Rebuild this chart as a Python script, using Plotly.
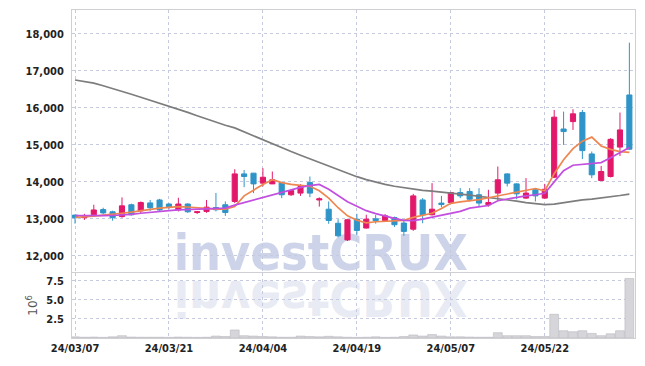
import plotly.graph_objects as go

# ---------------- data ----------------
dates = [
    "24/03/07", "24/03/08", "24/03/11", "24/03/12", "24/03/13", "24/03/14", "24/03/15",
    "24/03/18", "24/03/19", "24/03/20", "24/03/21", "24/03/22", "24/03/25", "24/03/26",
    "24/03/27", "24/03/28", "24/03/29", "24/04/01", "24/04/02", "24/04/03", "24/04/04",
    "24/04/05", "24/04/08", "24/04/09", "24/04/11", "24/04/12", "24/04/15", "24/04/16",
    "24/04/17", "24/04/18", "24/04/19", "24/04/22", "24/04/23", "24/04/24", "24/04/25",
    "24/04/26", "24/04/29", "24/04/30", "24/05/02", "24/05/03", "24/05/07", "24/05/08",
    "24/05/09", "24/05/10", "24/05/13", "24/05/14", "24/05/16", "24/05/17", "24/05/20",
    "24/05/21", "24/05/22", "24/05/23", "24/05/24", "24/05/27", "24/05/28", "24/05/29",
    "24/05/30", "24/05/31", "24/06/03", "24/06/04",
]

opens = [13100, 13030, 13110, 13250, 13190, 13060, 13380, 13215, 13430, 13510,
         13400, 13240, 13400, 13170, 13200, 13305, 13380, 13470, 14215, 14235,
         13965, 13945, 13980, 13650, 13695, 13980, 13510, 13260, 12880, 12430,
         12990, 12750, 13000, 12955, 13035, 12885, 12720, 13510, 13110, 13425,
         13440, 13710, 13740, 13650, 13380, 13695, 14215, 13945, 13560, 13785,
         13560, 14125, 15430, 15630, 15875, 14755, 14035, 14145, 14940, 16350]
highs = [13110, 13135, 13380, 13300, 13220, 13580, 13410, 13470, 13510, 13540,
         13420, 13570, 13420, 13210, 13510, 13700, 13470, 14340, 14320, 14240,
         14370, 14280, 14000, 13800, 13935, 14145, 13580, 13470, 12990, 13000,
         13135, 13110, 13100, 13130, 13060, 12975, 13675, 13560, 13965, 13620,
         13730, 13830, 13830, 13830, 13785, 14415, 14230, 13960, 14100, 13820,
         13945, 15945, 15900, 15965, 15945, 14820, 14430, 15180, 15875, 17765]
lows = [12870, 12970, 13090, 13130, 12950, 13030, 13090, 13160, 13215, 13215,
        13260, 13200, 13160, 13130, 13160, 13200, 13080, 13425, 13855, 13695,
        13875, 13940, 13560, 13620, 13620, 13585, 13330, 12865, 12500, 12400,
        12570, 12740, 12870, 12920, 12780, 12540, 12675, 12880, 13090, 13315,
        13400, 13560, 13470, 13330, 13330, 13510, 13875, 13530, 13540, 13470,
        13540, 14100, 15000, 15405, 14615, 14100, 14030, 14120, 14700, 14860]
closes = [13030, 13070, 13240, 13160, 13030, 13350, 13110, 13440, 13300, 13240,
          13320, 13400, 13190, 13190, 13315, 13245, 13170, 14215, 14145, 13945,
          14125, 14055, 13650, 13765, 13875, 13695, 13540, 12955, 12540, 12975,
          12685, 12990, 12950, 13080, 12840, 12660, 13620, 13110, 13260, 13385,
          13710, 13620, 13530, 13425, 13440, 14055, 13965, 13675, 13695, 13620,
          13800, 15750, 15360, 15840, 14845, 14190, 14280, 15150, 15405, 14885]

ma_short = [13040, 13050, 13070, 13100, 13120, 13150, 13180, 13220, 13260, 13290,
            13310, 13330, 13320, 13300, 13270, 13260, 13260, 13330, 13620, 13780,
            13930, 14060, 13980, 13930, 13910, 13880, 13760, 13560, 13300, 13080,
            12960, 12890, 12920, 12940, 12950, 12960, 13040, 13100, 13150, 13280,
            13420, 13460, 13480, 13520, 13570, 13620, 13670, 13720, 13780, 13820,
            13760, 14220, 14600, 14900, 15100, 15210, 14970, 14880, 14820, 14800]
ma_mid = [13090, 13085, 13080, 13085, 13090, 13100, 13120, 13150, 13180, 13200,
          13220, 13240, 13250, 13260, 13265, 13270, 13290, 13370, 13440, 13500,
          13570, 13640, 13720, 13790, 13850, 13900, 13930, 13800, 13620, 13460,
          13340, 13220, 13140, 13070, 13010, 12960, 12950, 12990, 13040, 13085,
          13140, 13200, 13290, 13320, 13360, 13490, 13540, 13590, 13620, 13650,
          13690, 14000, 14300, 14450, 14480, 14500, 14520, 14650, 14790, 14930]
ma_long = [16755, 16720, 16670, 16600, 16530, 16450, 16370, 16290, 16210, 16130,
           16060, 15970, 15880, 15790, 15700, 15610, 15530, 15460, 15350, 15240,
           15135, 15030, 14920, 14820, 14720, 14620, 14520, 14420, 14320, 14230,
           14140, 14060, 13990, 13930, 13880, 13840, 13800, 13770, 13750, 13730,
           13700, 13670, 13640, 13610, 13590, 13560, 13520, 13480, 13440, 13410,
           13385, 13395, 13440, 13480, 13510, 13535, 13560, 13590, 13630, 13670]

volume_m = [0.15, 0.10, 0.12, 0.08, 0.15, 0.30, 0.12, 0.10, 0.10, 0.10,
            0.08, 0.12, 0.10, 0.08, 0.10, 0.25, 0.20, 1.05, 0.30, 0.25,
            0.20, 0.15, 0.10, 0.10, 0.25, 0.20, 0.15, 0.22, 0.15, 0.10,
            0.08, 0.10, 0.15, 0.08, 0.10, 0.20, 0.40, 0.25, 0.45, 0.25,
            0.15, 0.15, 0.12, 0.10, 0.10, 0.70, 0.30, 0.30, 0.30, 0.20,
            0.20, 3.10, 0.95, 0.82, 0.95, 0.60, 0.30, 0.55, 0.95, 7.80]

price_ticks = [12000, 13000, 14000, 15000, 16000, 17000, 18000]
vol_ticks = [2.5, 5.0, 7.5]
vol_tick_text = ["2.5", "5.0", "7.5"]
x_tick_vals = dates[::10]

# ---------------- style ----------------
RED = "#e2196b"
BLUE = "#2f94c8"
GRID = "#c6cadf"
FRAME = "#cfcfd4"
TICKFONT = dict(family="DejaVu Sans Condensed, sans-serif", size=11,
                color="#222222", weight=700)

fig = go.Figure()

fig.add_trace(go.Candlestick(
    x=dates, open=opens, high=highs, low=lows, close=closes,
    increasing=dict(line=dict(color=RED, width=1), fillcolor=RED),
    decreasing=dict(line=dict(color=BLUE, width=1), fillcolor=BLUE),
    xaxis="x", yaxis="y", showlegend=False, whiskerwidth=0,
))
fig.add_trace(go.Scatter(x=dates, y=ma_long, mode="lines", xaxis="x", yaxis="y",
                         line=dict(color="#7d7d7d", width=1.7), showlegend=False))
fig.add_trace(go.Scatter(x=dates, y=ma_short, mode="lines", xaxis="x", yaxis="y",
                         line=dict(color="#ee8650", width=1.7), showlegend=False))
fig.add_trace(go.Scatter(x=dates, y=ma_mid, mode="lines", xaxis="x", yaxis="y",
                         line=dict(color="#c24fe0", width=1.7), showlegend=False))
fig.add_trace(go.Bar(x=dates, y=volume_m, xaxis="x2", yaxis="y2", showlegend=False,
                     marker=dict(color="#d5d5da", line=dict(color="#b8b8c0", width=0.6))))

xrange = [-0.32, len(dates) - 0.4]
common_x = dict(type="category", range=xrange, showgrid=True, gridcolor=GRID,
                griddash="dot", gridwidth=1, tickmode="array", tickvals=x_tick_vals,
                showline=True, linecolor=FRAME, linewidth=1, mirror=True,
                ticks="", zeroline=False, automargin=False)

fig.update_layout(
    width=645, height=366,
    margin=dict(l=72, r=10, t=10, b=28),
    paper_bgcolor="white", plot_bgcolor="white",
    bargap=0.06, boxgap=0.22, showlegend=False,
    xaxis=dict(**common_x, anchor="y", domain=[0, 1], showticklabels=False,
               rangeslider=dict(visible=False), matches="x2"),
    xaxis2=dict(**common_x, anchor="y2", domain=[0, 1], showticklabels=True,
                ticktext=x_tick_vals, tickfont=TICKFONT),
    yaxis=dict(domain=[0.202, 1], range=[11568, 18649], tickvals=price_ticks,
               tickformat=",d", tickfont=TICKFONT, showgrid=True, gridcolor=GRID,
               griddash="dot", showline=True, linecolor=FRAME, mirror=True,
               zeroline=False, ticks="", ticklabelstandoff=5, automargin=False),
    yaxis2=dict(domain=[0, 0.199], range=[0, 8.55], tickvals=vol_ticks,
                ticktext=vol_tick_text, tickfont=TICKFONT, showgrid=True,
                gridcolor=GRID, griddash="dot", showline=True, linecolor=FRAME,
                mirror=True, zeroline=False, ticks="", ticklabelstandoff=5,
                automargin=False,
                title=dict(text="10<sup>6</sup>", standoff=6,
                           font=dict(family="DejaVu Sans, sans-serif", size=12, color="#555"))),
)

WM_FAMILY = "DejaVu Sans Condensed, sans-serif"
WM_FONT = dict(family=WM_FAMILY, size=50, color="rgba(192,201,227,0.8)", weight=700)
WM_FONT2 = dict(family=WM_FAMILY, size=50, color="rgba(222,226,238,0.7)", weight=700)
fig.add_shape(type="rect", xref="paper", yref="paper", x0=0.192, x1=0.692,
              y0=0.205, y1=0.335, layer="below", line=dict(width=0),
              fillcolor="rgba(0,0,0,0)",
              label=dict(text="investCRUX", font=WM_FONT, textposition="middle center"))
fig.add_shape(type="rect", xref="paper", yref="paper", x0=0.192, x1=0.692,
              y0=0.07, y1=0.20, layer="below", line=dict(width=0),
              fillcolor="rgba(0,0,0,0)",
              label=dict(text="investCRUX", font=WM_FONT2, textposition="middle center"))

post = """
document.body.style.margin = '0';
document.body.style.padding = '0';
var gd = document.getElementById('{plot_id}');
function flipWM(){
  var ts = gd.querySelectorAll('text');
  var found = [];
  ts.forEach(function(t){ if (t.textContent === 'investCRUX') found.push(t); });
  if (found.length > 1) {
    var t = found[1];
    t.style.transformBox = 'fill-box';
    t.style.transformOrigin = '50% 50%';
    t.style.transform = 'scaleY(-1)';
  }
}
flipWM();
setTimeout(flipWM, 0);
if (gd.on) { gd.on('plotly_afterplot', flipWM); }
"""

fig.write_html("out.html", post_script=post, config={"displayModeBar": False})
